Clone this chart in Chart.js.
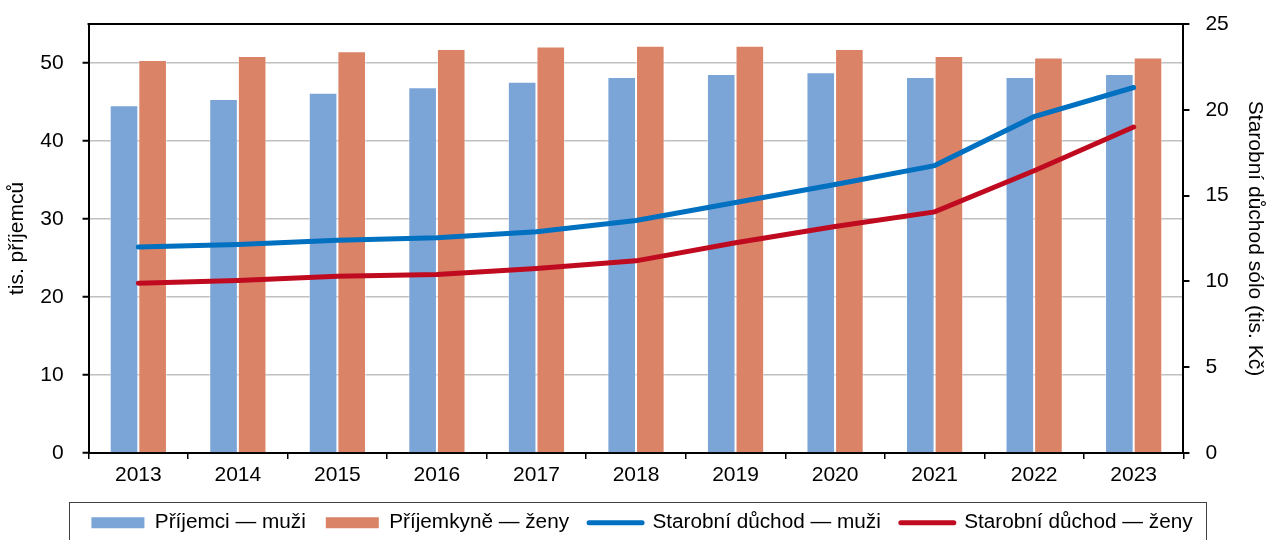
<!DOCTYPE html>
<html lang="cs">
<head>
<meta charset="utf-8">
<script src="https://cdn.jsdelivr.net/npm/chart.js@4.4.1/dist/chart.umd.min.js"></script>
<style>
  html, body { margin: 0; padding: 0; background: #fff; }
  #wrap { width: 1267px; height: 540px; }
</style>
</head>
<body>
<div id="wrap"><canvas id="chart"></canvas></div>
<script>
// Roky
const roky = ['2013', '2014', '2015', '2016', '2017', '2018', '2019', '2020', '2021', '2022', '2023'];

// Počet příjemců (tis.)
const prijemciMuzi = [44.6, 45.4, 46.2, 46.9, 47.6, 48.2, 48.6, 48.8, 48.2, 48.2, 48.6];
const prijemkyneZeny = [50.4, 50.9, 51.5, 51.8, 52.1, 52.2, 52.2, 51.8, 50.9, 50.7, 50.7];

// Průměrný starobní důchod sólo (tis. Kč)
const duchodMuzi = [12.0, 12.15, 12.4, 12.55, 12.9, 13.55, 14.6, 15.65, 16.75, 19.6, 21.3];
const duchodZeny = [9.9, 10.05, 10.3, 10.4, 10.75, 11.2, 12.25, 13.2, 14.05, 16.45, 19.0];

const FONT = "'Liberation Sans', Arial, sans-serif";
const PORADI = ['Příjemci — muži', 'Příjemkyně — ženy', 'Starobní důchod — muži', 'Starobní důchod — ženy'];

// rámeček kolem plochy grafu a kolem legendy
const ramecky = {
    id: 'ramecky',
    afterDraw(chart) {
        const ctx = chart.ctx;
        const a = chart.chartArea;
        ctx.save();
        ctx.strokeStyle = '#000';
        ctx.lineWidth = 2;
        ctx.beginPath();
        ctx.moveTo(a.left - 1, a.top);
        ctx.lineTo(a.right + 1, a.top);
        ctx.stroke();

        const boxes = chart.legend.legendHitBoxes;
        if (boxes && boxes.length) {
            const x0 = Math.min(...boxes.map(b => b.left)) - 22;
            const x1 = Math.max(...boxes.map(b => b.left + b.width)) + 14;
            const y0 = boxes[0].top - 10;
            ctx.strokeStyle = '#404040';
            ctx.lineWidth = 1;
            ctx.strokeRect(Math.round(x0) + 0.5, Math.round(y0) + 0.5, Math.round(x1 - x0), 80);
        }
        ctx.restore();
    }
};

// horní okraj osy nechat na layout.padding
const bezOkraje = axis => { axis.paddingTop = 0; };

function createChart() {
    const ctx = document.getElementById('chart').getContext('2d');
    new Chart(ctx, {
        data: {
            labels: roky,
            datasets: [
                {
                    type: 'line',
                    label: 'Starobní důchod — muži',
                    data: duchodMuzi,
                    yAxisID: 'y2',
                    borderColor: '#0070c0',
                    backgroundColor: '#0070c0',
                    borderWidth: 5,
                    pointRadius: 0,
                    tension: 0,
                    borderCapStyle: 'round',
                    order: 0
                },
                {
                    type: 'line',
                    label: 'Starobní důchod — ženy',
                    data: duchodZeny,
                    yAxisID: 'y2',
                    borderColor: '#c00a1f',
                    backgroundColor: '#c00a1f',
                    borderWidth: 5,
                    pointRadius: 0,
                    tension: 0,
                    borderCapStyle: 'round',
                    order: 0
                },
                {
                    type: 'bar',
                    label: 'Příjemci — muži',
                    data: prijemciMuzi,
                    yAxisID: 'y',
                    backgroundColor: '#7ba4d7',
                    borderColor: 'rgba(255,255,255,0.45)',
                    borderWidth: 1,
                    categoryPercentage: 0.575,
                    barPercentage: 1,
                    order: 1
                },
                {
                    type: 'bar',
                    label: 'Příjemkyně — ženy',
                    data: prijemkyneZeny,
                    yAxisID: 'y',
                    backgroundColor: '#db8367',
                    borderColor: 'rgba(255,255,255,0.45)',
                    borderWidth: 1,
                    categoryPercentage: 0.575,
                    barPercentage: 1,
                    order: 1
                }
            ]
        },
        options: {
            responsive: true,
            maintainAspectRatio: false,
            animation: false,
            layout: { padding: { left: 17, right: 0, top: 24, bottom: -3 } },
            plugins: {
                tooltip: { enabled: false },
                legend: {
                    position: 'bottom',
                    labels: {
                        font: { family: FONT, size: 20.75 },
                        color: '#000',
                        usePointStyle: true,
                        pointStyleWidth: 53,
                        boxHeight: 11,
                        boxWidth: 53,
                        padding: 20,
                        sort: (a, b) => PORADI.indexOf(a.text) - PORADI.indexOf(b.text),
                        generateLabels: chart => chart.data.datasets.map((ds, i) => {
                            const jeCara = ds.type === 'line';
                            return {
                                text: ds.label,
                                datasetIndex: i,
                                fillStyle: ds.backgroundColor,
                                strokeStyle: jeCara ? ds.borderColor : ds.backgroundColor,
                                lineWidth: jeCara ? 5 : 0,
                                lineCap: 'round',
                                pointStyle: jeCara ? 'line' : 'rect',
                                fontColor: '#000',
                                hidden: false
                            };
                        })
                    }
                }
            },
            scales: {
                x: {
                    grid: {
                        display: true,
                        drawOnChartArea: false,
                        drawTicks: true,
                        tickLength: 6,
                        color: '#000',
                        lineWidth: 1.5
                    },
                    border: { display: true, color: '#000', width: 2 },
                    ticks: {
                        font: { family: FONT, size: 21 },
                        color: '#000',
                        padding: 4
                    }
                },
                y: {
                    position: 'left',
                    min: 0,
                    max: 55,
                    afterFit: bezOkraje,
                    afterBuildTicks: axis => {
                        axis.ticks = axis.ticks.filter(t => t.value % 10 === 0);
                    },
                    ticks: {
                        stepSize: 10,
                        font: { family: FONT, size: 21 },
                        color: '#000',
                        padding: 19
                    },
                    grid: {
                        color: ctx => ctx.tick && ctx.tick.value === 0 ? 'rgba(0,0,0,0)' : '#c0c0c0',
                        lineWidth: 1.5,
                        drawTicks: true,
                        tickLength: 6,
                        tickColor: '#000',
                        tickWidth: 2
                    },
                    border: { display: true, color: '#000', width: 2 },
                    title: {
                        display: true,
                        text: 'tis. příjemců',
                        font: { family: FONT, size: 21 },
                        color: '#000',
                        padding: { top: -12, bottom: -9 }
                    }
                },
                y2: {
                    position: 'right',
                    min: 0,
                    max: 25,
                    afterFit: bezOkraje,
                    ticks: {
                        stepSize: 5,
                        font: { family: FONT, size: 21 },
                        color: '#000',
                        padding: 16
                    },
                    grid: {
                        drawOnChartArea: false,
                        drawTicks: true,
                        tickLength: 6,
                        color: '#000',
                        lineWidth: 2
                    },
                    border: { display: true, color: '#000', width: 2 },
                    title: {
                        display: true,
                        text: 'Starobní důchod sólo (tis. Kč)',
                        font: { family: FONT, size: 21 },
                        color: '#000',
                        padding: { top: 0, bottom: -3 }
                    }
                }
            }
        },
        plugins: [ramecky]
    });
}

createChart();
</script>
</body>
</html>
